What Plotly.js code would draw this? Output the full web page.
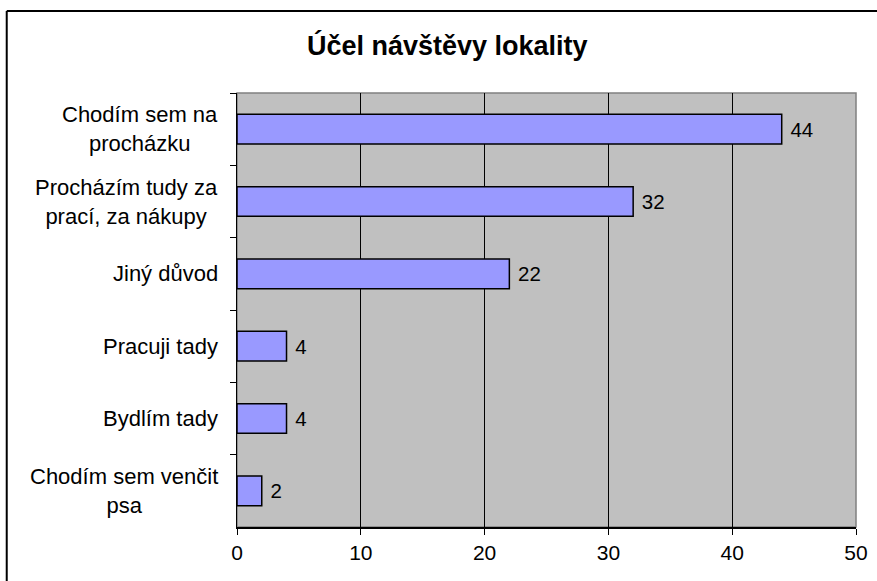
<!DOCTYPE html>
<html>
<head>
<meta charset="utf-8">
<script src="https://cdn.plot.ly/plotly-3.0.1.min.js"></script>
<style>html,body{margin:0;padding:0;background:#fff;overflow:hidden;}#chart{width:877px;height:581px;}</style>
</head>
<body>
<div id="chart"></div>
<script>
const categories = ["Chodím sem na<br>procházku", "Procházím tudy za<br>prací, za nákupy", "Jiný důvod", "Pracuji tady", "Bydlím tady", "Chodím sem venčit<br>psa"];
const values = [44, 32, 22, 4, 4, 2];
const xTicks = [0, 10, 20, 30, 40, 50];
const chartTitle = "Účel návštěvy lokality";

const FONT = "Liberation Sans, Arial, sans-serif";
const LABEL_SIZE = 22;

const trace = {
  type: "bar",
  orientation: "h",
  y: categories,
  x: values,
  width: 0.41,
  marker: {color: "#9999ff", line: {color: "#000000", width: 1.5}},
  text: values.map(v => "\u00a0" + v),
  textposition: "outside",
  cliponaxis: false,
  textfont: {family: FONT, size: 20.5, color: "#000"},
  hoverinfo: "none"
};

const annotations = categories.map(c => ({
  xref: "paper", yref: "y", x: -0.027, y: c, xanchor: "right", yanchor: "middle",
  text: c, showarrow: false, align: "center",
  font: {family: FONT, size: LABEL_SIZE, color: "#000"}
}));

const layout = {
  width: 877, height: 581,
  margin: {l: 237, r: 21, t: 93, b: 54},
  paper_bgcolor: "#ffffff",
  plot_bgcolor: "#c0c0c0",
  showlegend: false,
  title: {text: "<b>" + chartTitle + "</b>", x: 0.51, xanchor: "center", y: 0.921, yanchor: "middle",
          font: {family: FONT, size: 27, color: "#000"}},
  xaxis: {
    range: [0, 50], tickvals: xTicks, ticktext: xTicks.map(String),
    showgrid: true, gridcolor: "#000000", gridwidth: 1,
    zeroline: false, showline: true, linecolor: "#000000", linewidth: 1.5,
    ticks: "outside", ticklen: 6, tickcolor: "#000", tickwidth: 1,
    tickfont: {family: FONT, size: 21, color: "#000"}, fixedrange: true
  },
  yaxis: {
    type: "category", autorange: "reversed",
    showticklabels: false, showgrid: false, zeroline: false,
    showline: true, linecolor: "#000000", linewidth: 1.5,
    ticks: "outside", tickson: "boundaries", ticklen: 6, tickcolor: "#000", tickwidth: 1,
    fixedrange: true
  },
  annotations: annotations,
  shapes: [
    {type: "rect", xref: "paper", yref: "paper", x0: 0, x1: 1, y0: 0, y1: 1,
     line: {color: "#808080", width: 1.5}, fillcolor: "rgba(0,0,0,0)", layer: "below"},
    {type: "line", xref: "paper", yref: "paper", x0: -0.372, x1: -0.372, y0: -0.6, y1: 1.189,
     line: {color: "#000000", width: 2}},
    {type: "line", xref: "paper", yref: "paper", x0: -0.372, x1: 1.3, y0: 1.189, y1: 1.189,
     line: {color: "#000000", width: 2}}
  ]
};

Plotly.newPlot("chart", [trace], layout, {displayModeBar: false, staticPlot: true});
</script>
</body>
</html>
